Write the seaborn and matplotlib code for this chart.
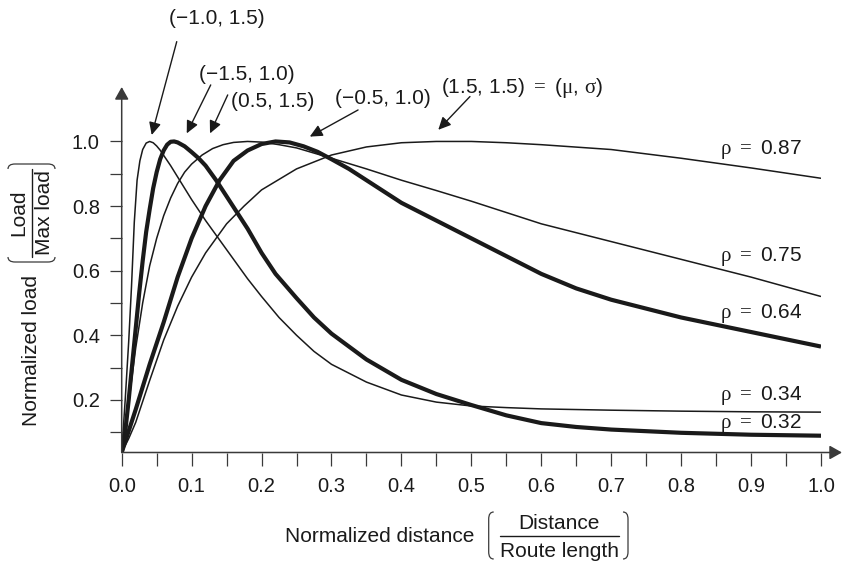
import numpy as np
import pandas as pd
import matplotlib
matplotlib.use("Agg")
import matplotlib.pyplot as plt
import seaborn as sns
from matplotlib.path import Path
from matplotlib.patches import PathPatch

# ---------------- data ----------------
# (-1.0, 1.5)  rho = 0.34  (thin)
x_a = [0, 0.005, 0.01, 0.014, 0.018, 0.022, 0.026, 0.03, 0.035, 0.04, 0.045, 0.05, 0.055, 0.06,
       0.07, 0.08, 0.09, 0.10, 0.12, 0.15, 0.18, 0.20, 0.225, 0.25, 0.275, 0.30, 0.35, 0.40,
       0.45, 0.50, 0.55, 0.60, 0.70, 0.80, 0.90, 1.00]
y_a = [0.037, 0.20, 0.38, 0.55, 0.75, 0.88, 0.94, 0.975, 0.995, 1.0, 0.996, 0.986, 0.973, 0.957,
       0.925, 0.89, 0.855, 0.82, 0.755, 0.665, 0.575, 0.52, 0.455, 0.40, 0.35, 0.31, 0.255, 0.215,
       0.193, 0.181, 0.176, 0.172, 0.168, 0.165, 0.163, 0.162]

# (-1.5, 1.0)  rho = 0.32  (thick)
x_b = [0, 0.005, 0.01, 0.015, 0.02, 0.025, 0.03, 0.035, 0.04, 0.045, 0.05, 0.055, 0.06, 0.065,
       0.07, 0.075, 0.08, 0.09, 0.10, 0.11, 0.12, 0.135, 0.15, 0.165, 0.18, 0.20, 0.22, 0.25,
       0.275, 0.30, 0.35, 0.40, 0.45, 0.50, 0.55, 0.60, 0.65, 0.70, 0.80, 0.90, 1.00]
y_b = [0.037, 0.10, 0.20, 0.31, 0.42, 0.53, 0.63, 0.72, 0.79, 0.855, 0.905, 0.945, 0.972, 0.99,
       0.999, 1.0, 0.997, 0.985, 0.967, 0.948, 0.925, 0.88, 0.83, 0.78, 0.73, 0.655, 0.59, 0.515,
       0.455, 0.405, 0.325, 0.262, 0.218, 0.184, 0.152, 0.128, 0.116, 0.108, 0.098, 0.092, 0.089]

# (0.5, 1.5)  rho = 0.75  (thin)
x_c = [0, 0.005, 0.01, 0.02, 0.03, 0.04, 0.05, 0.06, 0.07, 0.08, 0.09, 0.10, 0.115, 0.13, 0.145,
       0.16, 0.18, 0.20, 0.225, 0.25, 0.30, 0.35, 0.40, 0.45, 0.50, 0.60, 0.70, 0.80, 0.90, 1.00]
y_c = [0.037, 0.10, 0.19, 0.36, 0.50, 0.615, 0.70, 0.77, 0.825, 0.87, 0.905, 0.93, 0.958, 0.978,
       0.99, 0.997, 1.0, 0.998, 0.99, 0.98, 0.948, 0.915, 0.88, 0.848, 0.815, 0.745, 0.69, 0.635,
       0.58, 0.52]

# (-0.5, 1.0)  rho = 0.64  (thick)
x_d = [0, 0.02, 0.04, 0.06, 0.08, 0.10, 0.12, 0.14, 0.16, 0.18, 0.20, 0.22, 0.24, 0.26, 0.28,
       0.30, 0.325, 0.35, 0.40, 0.45, 0.50, 0.55, 0.60, 0.65, 0.70, 0.80, 0.90, 1.00]
y_d = [0.037, 0.17, 0.31, 0.44, 0.58, 0.70, 0.80, 0.88, 0.94, 0.972, 0.992, 1.0, 0.997, 0.985,
       0.968, 0.945, 0.915, 0.88, 0.81, 0.755, 0.70, 0.645, 0.59, 0.545, 0.51, 0.455, 0.41, 0.365]

# (1.5, 1.5)  rho = 0.87  (thin)
x_e = [0, 0.01, 0.02, 0.04, 0.06, 0.08, 0.10, 0.12, 0.15, 0.175, 0.20, 0.25, 0.30, 0.35, 0.40,
       0.45, 0.50, 0.55, 0.60, 0.70, 0.80, 0.90, 1.00]
y_e = [0.037, 0.08, 0.13, 0.26, 0.385, 0.49, 0.58, 0.655, 0.745, 0.80, 0.85, 0.915, 0.958, 0.983,
       0.996, 1.0, 1.0, 0.996, 0.99, 0.975, 0.948, 0.918, 0.886]

curve_names = ["(-1.0, 1.5)", "(-1.5, 1.0)", "(0.5, 1.5)", "(-0.5, 1.0)", "(1.5, 1.5)"]
curve_thick = [False, True, False, True, False]

param_labels = ["(\u22121.0, 1.5)", "(\u22121.5, 1.0)", "(0.5, 1.5)", "(\u22120.5, 1.0)",
                r"(1.5, 1.5) $=$ ($\mu$, $\sigma$)"]
rho_labels = ["0.87", "0.75", "0.64", "0.34", "0.32"]
rho_y = [0.974, 0.643, 0.468, 0.213, 0.128]

x_ticks = [0.0, 0.1, 0.2, 0.3, 0.4, 0.5, 0.6, 0.7, 0.8, 0.9, 1.0]
x_tick_labels = ["0.0", "0.1", "0.2", "0.3", "0.4", "0.5", "0.6", "0.7", "0.8", "0.9", "1.0"]
x_minor = [0.05, 0.15, 0.25, 0.35, 0.45, 0.55, 0.65, 0.75, 0.85, 0.95]
y_ticks = [0.2, 0.4, 0.6, 0.8, 1.0]
y_tick_labels = ["0.2", "0.4", "0.6", "0.8", "1.0"]
y_minor = [0.1, 0.3, 0.5, 0.7, 0.9]

# ---------------- style ----------------
sns.set_style("white")
plt.rcParams["font.family"] = ["Liberation Sans", "DejaVu Sans"]
plt.rcParams["mathtext.fontset"] = "custom"
plt.rcParams["mathtext.rm"] = "Liberation Serif"
plt.rcParams["mathtext.it"] = "Liberation Serif"
plt.rcParams["mathtext.bf"] = "Liberation Serif:bold"

INK = "#1a1a1a"
AXC = "#3a3a3a"
FS = 15

W, H = 842, 563
fig = plt.figure(figsize=(W / 100, H / 100), dpi=100)
X0, X1 = 121.7, 821.0      # pixel x of data 0 and 1
YB, YT = 452.5, 87.0       # pixel y of axes bottom / top
ax = fig.add_axes([X0 / W, 1 - YB / H, (X1 - X0) / W, (YB - YT) / H])
ax.set_facecolor("white")

frames = []
for name, xs, ys in zip(curve_names, [x_a, x_b, x_c, x_d, x_e], [y_a, y_b, y_c, y_d, y_e]):
    frames.append(pd.DataFrame({"x": xs, "y": ys, "curve": name}))
df = pd.concat(frames, ignore_index=True)

for name, thick in zip(curve_names, curve_thick):
    sub = df[df["curve"] == name]
    sns.lineplot(data=sub, x="x", y="y", ax=ax, color=INK, lw=3.0 if thick else 1.1,
                 estimator=None, sort=False, legend=False,
                 solid_joinstyle="round", solid_capstyle="butt")

ax.set_xlim(0, 1.0)
ax.set_ylim(0.037, 0.037 + (YB - YT) / 323.0)
ax.set_xlabel("")
ax.set_ylabel("")

ax.set_xticks(x_ticks)
ax.set_xticklabels(x_tick_labels)
ax.set_xticks(x_minor, minor=True)
ax.set_yticks(y_ticks)
ax.set_yticklabels(y_tick_labels)
ax.set_yticks(y_minor, minor=True)
ax.tick_params(which="both", direction="out", length=9, width=0.9, color=AXC,
               bottom=True, left=True, top=False, right=False)
ax.tick_params(axis="x", which="major", pad=9, labelsize=14.5, labelcolor=INK)
ax.tick_params(axis="y", which="major", pad=6.8, labelsize=14.5, labelcolor=INK)
for sp in ax.spines.values():
    sp.set_visible(False)

# axis lines with arrow heads
axis_arrow = dict(arrowstyle="-|>,head_length=0.75,head_width=0.42", color=AXC, lw=1.1,
                  shrinkA=0, shrinkB=0, mutation_scale=10)
ax.annotate("", xy=(1.0 + 21 / (X1 - X0), 0), xytext=(0, 0), xycoords="axes fraction",
            arrowprops=axis_arrow, annotation_clip=False)
ax.annotate("", xy=(0, 1), xytext=(0, 0), xycoords="axes fraction",
            arrowprops=axis_arrow, annotation_clip=False)

# rho labels
for lab, yv in zip(rho_labels, rho_y):
    ax.text(0.8556, yv, r"$\rho$ $=$ " + lab, ha="left", va="center", fontsize=FS, color=INK)

# parameter labels and arrows
def fx(px):
    return px / W

def fy(py):
    return 1 - py / H

label_pos = [(216.5, 18.3), (246.5, 75.0), (273.0, 101.7), (383.0, 99.0), (521.7, 88.3)]
for s, (px, py) in zip(param_labels, label_pos):
    fig.text(fx(px), fy(py), s, ha="center", va="center", fontsize=FS, color=INK)

arrow_tails = [(0.0787, 1.309), (0.1273, 1.175), (0.1516, 1.144), (0.338, 1.0975), (0.498, 1.139)]
arrow_tips = [(0.0429, 1.020), (0.093, 1.025), (0.1263, 1.025), (0.269, 1.015), (0.4527, 1.036)]
lab_arrow = dict(arrowstyle="-|>,head_length=0.75,head_width=0.36", color=INK, lw=1.0,
                 shrinkA=0, shrinkB=0, mutation_scale=10)
for t, h in zip(arrow_tails, arrow_tips):
    ax.annotate("", xy=h, xytext=t, xycoords="data", arrowprops=lab_arrow, annotation_clip=False)

# ---------------- axis titles with bracketed fractions ----------------
def paren(x_edge, y_top, y_bot, depth, r, opening):
    xe = x_edge
    xo = x_edge + opening * depth
    verts = [(xo, y_top), (xe, y_top), (xe, y_top + r), (xe, y_bot - r), (xe, y_bot), (xo, y_bot)]
    codes = [Path.MOVETO, Path.CURVE3, Path.CURVE3, Path.LINETO, Path.CURVE3, Path.CURVE3]
    verts = [(fx(a), fy(b)) for a, b in verts]
    fig.add_artist(PathPatch(Path(verts, codes), fill=False, lw=0.9, edgecolor=AXC,
                             transform=fig.transFigure))

def hparen(y_edge, x_left, x_right, depth, r, opening):
    ye = y_edge
    yo = y_edge + opening * depth
    verts = [(x_left, yo), (x_left, ye), (x_left + r, ye), (x_right - r, ye), (x_right, ye), (x_right, yo)]
    codes = [Path.MOVETO, Path.CURVE3, Path.CURVE3, Path.LINETO, Path.CURVE3, Path.CURVE3]
    verts = [(fx(a), fy(b)) for a, b in verts]
    fig.add_artist(PathPatch(Path(verts, codes), fill=False, lw=0.9, edgecolor=AXC,
                             transform=fig.transFigure))

# x title
fig.text(fx(379.3), fy(536.7), "Normalized distance", ha="center", va="center", fontsize=FS, color=INK)
fig.text(fx(559.0), fy(523.3), "Distance", ha="center", va="center", fontsize=FS, color=INK)
fig.text(fx(559.0), fy(551.7), "Route length", ha="center", va="center", fontsize=FS, color=INK)
fig.add_artist(plt.Line2D([fx(499.5), fx(618.5)], [fy(536.0), fy(536.0)], lw=1.0, color=INK,
                          transform=fig.transFigure))
paren(488.7, 512.0, 559.0, 5.0, 7.0, +1)
paren(628.0, 512.0, 559.0, 5.0, 7.0, -1)

# y title
fig.text(fx(31.7), fy(350.0), "Normalized load", ha="center", va="center", rotation=90,
         fontsize=FS, color=INK)
fig.text(fx(18.5), fy(213.0), "Load", ha="center", va="center", rotation=90, fontsize=FS, color=INK)
fig.text(fx(44.5), fy(213.0), "Max load", ha="center", va="center", rotation=90, fontsize=FS, color=INK)
fig.add_artist(plt.Line2D([fx(31.7), fx(31.7)], [fy(169.0), fy(257.0)], lw=1.0, color=INK,
                          transform=fig.transFigure))
hparen(164.0, 8.0, 55.0, 5.0, 7.0, +1)
hparen(262.0, 8.0, 55.0, 5.0, 7.0, -1)

fig.savefig("out.png", dpi=100, facecolor="white")
